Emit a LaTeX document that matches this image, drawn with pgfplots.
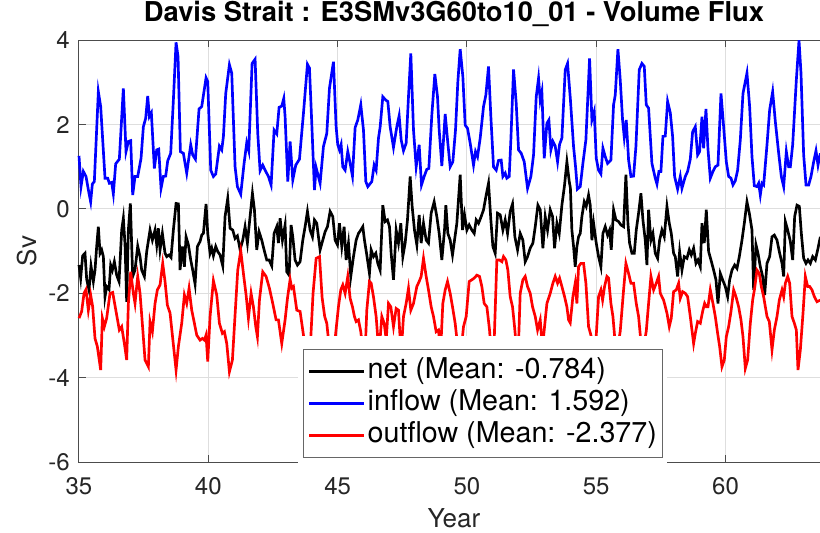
\documentclass[border=0pt]{standalone}
\usepackage{fontspec}
\setmainfont{TeX Gyre Heros}
\usepackage{pgfplots}
\pgfplotsset{compat=1.18}
\usetikzlibrary{calc}
\definecolor{mblue}{RGB}{0,0,255}
\definecolor{mred}{RGB}{255,0,0}
\begin{document}
\begin{tikzpicture}
\begin{axis}[
  scale only axis, width=562.5pt, height=316.3pt,
  xmin=35, xmax=64, ymin=-6, ymax=4,
  clip=false,
  xtick={35,40,45,50,55,60}, xticklabels={35,40,45,50,55,60},
  ytick={-6,-4,-2,0,2,4}, yticklabels={-6,-4,-2,0,2,4},
  tick align=inside, major tick length=5.25pt,
  grid=major, major grid style={black!13, line width=0.75pt},
  axis line style={black!70, line width=0.75pt},
  every tick/.style={black!70, line width=0.75pt},
  tick label style={font=\fontsize{18}{18}\selectfont, text=black!85},
  xticklabel style={anchor=base, inner sep=0pt, yshift=-24pt},
  yticklabel style={anchor=east, inner sep=0pt, xshift=-6.75pt},
  title={Davis Strait : E3SMv3G60to10\_01 - Volume Flux},
  title style={font=\fontsize{20.5}{20.5}\selectfont\bfseries, at={(axis description cs:0.5,1)}, anchor=base, inner sep=0pt, yshift=7.7pt},
  xlabel={Year},
  xlabel style={font=\fontsize{19.5}{19.5}\selectfont, text=black!85, at={(axis description cs:0.5,0)}, anchor=base, inner sep=0pt, yshift=-48.75pt},
  ylabel={Sv},
  ylabel style={font=\fontsize{19.5}{19.5}\selectfont, text=black!85, at={(axis description cs:-0.0693,0.5)}, anchor=center, inner sep=0pt},
  legend style={at={(0.299,0.268)}, anchor=north west, draw=black!60, line width=0.75pt, fill=white,
    font=\fontsize{21.5}{24}\selectfont, inner xsep=3pt, inner ysep=4.5pt, row sep=0pt,
    nodes={inner xsep=1.5pt, inner ysep=1.75pt, text height=15.5pt, text depth=5pt}},
  legend cell align=left,
  legend image code/.code={\draw[#1, line width=1.5pt] (0pt,0pt) -- (39pt,0pt); \path (0pt,0pt) -- (41.5pt,0pt);},
]
\addplot[black, line width=2pt] table {
35.000 -1.33
35.065 -1.64
35.142 -1.11
35.232 -1.05
35.297 -1.67
35.387 -1.92
35.464 -1.35
35.555 -1.72
35.619 -1.45
35.684 -0.89
35.748 -0.42
35.813 -1.05
35.877 -0.97
35.942 -1.13
36.006 -2.08
36.070 -1.84
36.161 -1.91
36.225 -1.33
36.290 -1.45
36.367 -1.25
36.457 -1.57
36.548 -1.72
36.651 -0.50
36.715 -0.22
36.780 -0.85
36.844 -2.20
36.909 -0.50
36.986 0.13
37.076 -1.60
37.166 -1.45
37.270 -0.88
37.360 -1.13
37.424 -1.45
37.528 -1.60
37.618 -1.01
37.747 -0.50
37.837 -0.74
37.940 -0.50
38.005 -0.85
38.069 -0.46
38.134 -0.97
38.224 -0.58
38.327 -1.05
38.392 -1.13
38.482 -1.09
38.559 -1.15
38.649 -0.50
38.753 0.13
38.843 0.12
38.907 -1.45
38.998 -0.89
39.075 -1.37
39.140 -0.66
39.230 -0.85
39.320 -1.21
39.397 -1.45
39.488 -1.78
39.578 -0.89
39.681 -0.77
39.746 -0.62
39.810 -0.58
39.913 0.12
39.978 -0.58
40.068 -1.05
40.132 -0.93
40.197 -1.11
40.287 -0.89
40.365 -1.01
40.455 -1.09
40.558 -1.35
40.648 -0.18
40.751 0.25
40.842 -0.46
40.945 -0.50
41.035 -0.70
41.125 -0.64
41.229 -0.96
41.332 -0.74
41.422 -0.42
41.512 -0.81
41.615 -0.18
41.706 0.37
41.783 -0.02
41.873 -0.97
41.963 -0.54
42.067 -0.74
42.157 -0.97
42.260 -1.21
42.350 -1.21
42.453 -1.35
42.544 -0.58
42.647 -0.42
42.711 -0.81
42.776 -0.22
42.866 -0.74
42.969 -0.38
43.034 -1.49
43.124 -1.57
43.201 -0.38
43.266 -0.66
43.356 -1.21
43.446 -1.33
43.549 -1.25
43.653 -0.74
43.743 -0.42
43.833 -0.06
43.937 -0.50
44.027 -0.66
44.104 -0.26
44.194 -0.34
44.323 -0.97
44.426 -0.74
44.516 -0.54
44.607 -0.42
44.710 -0.06
44.813 -0.18
44.903 -0.74
44.994 -0.85
45.071 -0.34
45.161 -0.89
45.251 -0.42
45.329 -1.21
45.419 -0.81
45.509 -1.60
45.613 -1.13
45.716 -0.74
45.806 -0.58
45.896 -0.50
45.974 -0.42
46.038 -0.74
46.128 -1.09
46.231 -1.53
46.296 -0.97
46.386 -1.13
46.476 -1.05
46.554 -1.29
46.644 -1.45
46.747 0.09
46.838 -0.30
46.928 -0.26
47.005 -0.42
47.070 -1.05
47.160 -1.68
47.263 -0.50
47.353 -0.81
47.444 -0.34
47.521 -1.13
47.611 -0.81
47.701 -0.26
47.805 0.77
47.882 0.06
47.972 -0.50
48.063 -0.85
48.153 -0.14
48.230 -0.81
48.320 -0.34
48.424 -0.74
48.514 -0.81
48.617 -0.10
48.733 0.17
48.836 -0.18
48.927 -0.58
49.030 -1.21
49.133 -0.50
49.185 0.09
49.262 -0.58
49.352 -0.74
49.442 -1.09
49.520 -0.74
49.610 -0.34
49.739 0.81
49.829 -0.50
49.907 -0.14
49.997 -0.50
50.087 -0.38
50.190 -0.50
50.281 -0.58
50.358 -0.26
50.448 -0.34
50.551 -0.18
50.642 -0.02
50.732 0.29
50.835 0.61
50.925 -0.26
51.003 -0.89
51.093 -1.05
51.183 -0.10
51.286 -0.14
51.390 -0.50
51.480 -0.26
51.570 -0.58
51.673 -0.06
51.763 0.12
51.854 -0.66
51.957 -0.97
52.060 -0.58
52.163 -0.74
52.253 -1.25
52.344 -1.13
52.447 -0.93
52.550 -0.81
52.641 -0.42
52.744 0.09
52.834 -0.02
52.937 -0.93
53.027 -0.18
53.117 -0.50
53.221 -0.02
53.311 -0.18
53.388 -0.93
53.479 -0.34
53.569 -0.58
53.672 0.09
53.775 0.57
53.865 1.12
53.956 0.65
54.000 0.50
54.058 -0.50
54.123 -0.89
54.187 -1.37
54.252 -0.89
54.316 -0.66
54.381 -0.58
54.445 -0.18
54.536 0.17
54.613 0.06
54.703 0.33
54.768 0.09
54.832 -0.74
54.897 -0.34
55.000 -0.81
55.090 -1.13
55.180 -1.37
55.258 -0.58
55.348 -0.42
55.438 -0.62
55.516 -0.50
55.580 -0.97
55.670 -0.02
55.761 -0.26
55.864 -0.30
55.954 -0.38
56.057 -0.42
56.147 0.81
56.225 -0.34
56.289 -0.81
56.380 -1.05
56.470 -1.05
56.547 -0.50
56.637 -0.10
56.728 0.37
56.805 -0.26
56.895 -0.74
56.960 -1.33
57.024 -0.02
57.115 -0.74
57.192 -0.58
57.282 -1.05
57.373 -1.17
57.450 -0.74
57.540 -0.50
57.630 -0.66
57.734 0.06
57.824 -0.34
57.901 -0.58
57.991 -1.05
58.056 -1.13
58.146 -1.60
58.224 -1.01
58.314 -1.45
58.404 -1.13
58.507 -1.17
58.597 -0.97
58.675 -1.09
58.765 -0.93
58.856 -1.29
58.933 -1.21
59.023 -1.37
59.088 -0.34
59.178 -0.81
59.255 -0.02
59.345 -1.01
59.436 -1.21
59.539 -1.45
59.629 -1.68
59.707 -2.24
59.797 -1.53
59.887 -1.68
59.990 -1.84
60.081 -2.08
60.158 -1.68
60.248 -1.45
60.351 -1.33
60.442 -1.41
60.532 -1.13
60.635 -0.74
60.725 -0.34
60.828 0.17
60.919 -0.10
61.022 -0.50
61.086 -1.92
61.176 -0.85
61.254 -1.05
61.344 -1.37
61.434 -1.60
61.512 -2.04
61.602 -1.29
61.705 -1.13
61.796 -0.66
61.886 -0.62
61.989 -0.74
62.092 -1.05
62.183 -1.29
62.247 -1.60
62.312 -0.30
62.402 -0.50
62.505 -0.77
62.595 -1.21
62.672 -0.18
62.763 0.09
62.853 0.06
62.930 -0.58
63.020 -1.17
63.111 -1.29
63.188 -1.21
63.278 -1.29
63.369 -1.13
63.472 -1.21
63.562 -0.97
63.666 -0.66
};
\addlegendentry{net (Mean: -0.784)}
\addplot[mblue, line width=2pt] table {
35.000 1.26
35.078 0.53
35.168 0.89
35.271 0.77
35.387 0.37
35.451 0.17
35.516 0.59
35.593 0.65
35.748 2.78
35.838 2.43
36.006 0.73
36.109 0.73
36.174 0.61
36.264 0.63
36.328 0.36
36.419 1.07
36.560 1.18
36.715 2.86
36.818 1.36
36.909 1.60
36.999 1.62
37.076 0.33
37.166 0.77
37.270 0.77
37.399 1.20
37.489 1.95
37.579 2.15
37.657 2.68
37.721 2.19
37.798 2.28
37.914 0.96
38.005 1.40
38.082 1.42
38.172 0.49
38.263 0.77
38.353 0.78
38.430 1.14
38.546 1.32
38.649 2.58
38.753 3.95
38.830 3.61
38.920 1.36
39.036 1.32
39.165 0.85
39.320 1.52
39.397 1.28
39.501 1.18
39.642 2.37
39.746 2.43
39.913 3.11
39.978 3.02
40.094 0.92
40.197 0.77
40.287 0.83
40.429 1.49
40.519 1.40
40.584 1.72
40.674 2.74
40.816 3.42
40.906 3.22
41.035 1.00
41.125 0.53
41.254 0.35
41.383 1.08
41.486 1.57
41.564 1.38
41.693 3.45
41.809 3.55
41.912 1.79
42.002 0.91
42.105 1.04
42.196 0.92
42.325 0.77
42.428 0.57
42.544 1.87
42.647 1.78
42.737 2.41
42.840 2.44
42.918 2.62
42.969 2.19
43.073 0.65
43.163 1.60
43.266 0.69
43.382 1.04
43.524 1.18
43.679 2.27
43.833 3.43
43.911 3.34
44.001 2.03
44.104 0.45
44.169 0.98
44.323 0.61
44.452 1.48
44.581 1.79
44.684 2.86
44.839 3.49
44.942 1.95
45.006 1.52
45.071 1.40
45.135 1.53
45.200 1.00
45.290 0.92
45.393 1.36
45.484 1.08
45.574 0.78
45.677 1.93
45.780 2.11
45.896 2.47
46.000 1.87
46.090 0.65
46.167 0.53
46.322 0.65
46.412 1.04
46.489 0.92
46.580 1.68
46.644 1.94
46.747 2.66
46.863 2.58
46.941 2.55
47.031 1.95
47.160 1.46
47.289 1.95
47.379 2.21
47.457 1.64
47.547 1.38
47.650 1.56
47.740 2.66
47.830 3.69
47.934 1.87
48.037 1.00
48.153 1.52
48.243 0.57
48.346 0.77
48.449 0.94
48.527 0.96
48.643 2.23
48.759 3.20
48.862 2.66
48.927 1.87
49.030 1.02
49.159 2.25
49.262 1.56
49.352 1.00
49.455 1.12
49.558 1.87
49.649 3.02
49.739 3.79
49.842 3.14
49.932 1.99
50.023 1.91
50.126 1.56
50.255 1.04
50.332 1.36
50.410 1.24
50.513 1.68
50.642 2.43
50.732 2.70
50.835 3.38
50.925 2.19
51.028 1.00
51.132 0.92
51.222 1.15
51.325 1.16
51.390 0.77
51.480 0.85
51.544 0.73
51.634 0.77
51.699 1.64
51.802 3.31
51.905 2.51
51.996 1.40
52.099 1.32
52.215 1.12
52.344 0.49
52.473 0.77
52.576 1.28
52.679 2.66
52.769 3.10
52.834 2.58
52.898 2.78
52.989 1.20
53.092 2.03
53.169 2.11
53.246 1.40
53.324 1.60
53.414 1.49
53.504 1.12
53.582 1.53
53.672 1.68
53.801 3.30
53.891 3.45
54.000 2.60
54.123 1.48
54.200 1.00
54.270 0.47
54.381 0.53
54.484 1.08
54.600 1.64
54.742 3.57
54.832 2.11
54.922 2.31
55.000 1.20
55.090 0.92
55.180 0.83
55.258 1.44
55.348 1.24
55.438 1.08
55.567 1.16
55.670 2.47
55.735 2.70
55.838 3.79
55.928 3.06
56.018 2.11
56.083 1.70
56.160 2.11
56.251 1.16
56.341 0.77
56.444 0.78
56.534 1.48
56.663 3.30
56.766 3.45
56.857 3.38
56.934 2.47
57.024 2.39
57.153 1.08
57.282 0.73
57.347 0.59
57.424 0.89
57.501 0.89
57.579 1.72
57.669 1.73
57.759 2.55
57.863 2.28
57.953 1.72
58.030 0.77
58.146 0.47
58.249 0.77
58.314 0.49
58.443 0.77
58.533 0.89
58.636 1.18
58.727 1.83
58.830 1.95
58.920 1.28
58.997 1.36
59.088 2.19
59.152 1.44
59.242 2.37
59.320 1.42
59.410 0.73
59.513 0.89
59.603 1.00
59.707 1.04
59.823 2.74
59.926 1.95
60.029 1.12
60.119 0.77
60.210 0.73
60.287 0.57
60.377 0.67
60.467 0.92
60.571 1.64
60.674 2.74
60.828 3.22
60.931 2.43
61.022 1.24
61.112 0.55
61.215 0.53
61.280 0.61
61.344 0.33
61.409 0.61
61.473 0.57
61.602 1.52
61.705 2.35
61.821 2.78
61.925 2.07
62.054 1.32
62.157 0.77
62.247 0.53
62.350 1.36
62.440 1.00
62.505 1.00
62.595 1.52
62.737 3.06
62.840 4.00
62.917 3.22
63.020 1.28
63.111 0.57
63.214 0.57
63.304 0.77
63.407 1.12
63.497 1.38
63.575 1.04
63.666 1.32
};
\addlegendentry{inflow (Mean: 1.592)}
\addplot[mred, line width=2pt] table {
35.000 -2.59
35.103 -2.43
35.194 -2.00
35.271 -1.91
35.361 -2.40
35.451 -2.04
35.529 -2.32
35.619 -3.07
35.709 -3.26
35.838 -3.82
35.903 -2.59
35.980 -2.79
36.070 -2.59
36.199 -2.00
36.303 -1.98
36.432 -2.43
36.560 -2.87
36.651 -2.79
36.754 -3.19
36.844 -3.58
36.909 -2.24
36.999 -1.49
37.102 -2.00
37.166 -2.24
37.270 -1.60
37.360 -2.00
37.463 -2.83
37.553 -3.58
37.682 -3.74
37.747 -2.67
37.837 -2.91
37.940 -2.24
38.030 -1.92
38.134 -1.80
38.237 -1.29
38.327 -1.72
38.417 -2.28
38.521 -2.47
38.624 -3.07
38.753 -3.82
38.843 -3.26
38.972 -2.71
39.075 -2.04
39.165 -2.24
39.256 -1.88
39.359 -2.40
39.449 -2.67
39.552 -2.99
39.681 -3.11
39.771 -3.07
39.849 -3.11
39.913 -2.99
39.978 -3.62
40.068 -2.55
40.197 -1.70
40.326 -2.04
40.429 -2.71
40.545 -2.95
40.622 -2.91
40.713 -3.19
40.816 -3.86
40.932 -3.58
41.035 -2.51
41.138 -1.45
41.254 -0.99
41.358 -1.53
41.461 -2.04
41.551 -2.59
41.654 -2.00
41.744 -2.32
41.835 -2.79
41.899 -3.03
41.977 -2.16
42.105 -1.49
42.234 -1.60
42.363 -1.88
42.492 -2.24
42.621 -2.63
42.711 -2.63
42.840 -3.19
42.969 -2.63
43.060 -2.12
43.163 -1.67
43.227 -1.88
43.292 -1.84
43.421 -2.40
43.549 -2.43
43.679 -2.99
43.770 -3.40
43.860 -3.60
43.963 -3.05
44.050 -2.00
44.170 -1.17
44.300 -1.13
44.400 -2.10
44.500 -2.55
44.581 -2.71
44.680 -3.30
44.780 -3.50
44.900 -3.10
45.032 -2.32
45.122 -1.92
45.200 -1.80
45.290 -2.00
45.393 -1.60
45.484 -2.12
45.574 -2.32
45.651 -2.55
45.716 -2.67
45.806 -2.63
45.896 -2.91
45.980 -3.40
46.070 -3.30
46.128 -2.40
46.231 -1.72
46.296 -1.76
46.386 -2.08
46.489 -2.55
46.570 -3.20
46.640 -3.10
46.709 -2.55
46.799 -2.71
46.880 -3.10
46.967 -2.24
47.057 -2.32
47.160 -2.79
47.263 -2.36
47.353 -2.40
47.430 -3.20
47.490 -3.10
47.547 -2.55
47.650 -2.24
47.740 -1.88
47.830 -2.40
47.934 -2.24
48.063 -1.84
48.153 -1.72
48.230 -1.60
48.320 -1.17
48.424 -1.60
48.514 -1.92
48.617 -2.32
48.707 -2.55
48.810 -2.91
48.901 -2.87
48.980 -3.40
49.068 -2.24
49.159 -1.92
49.249 -1.72
49.352 -2.00
49.442 -2.32
49.545 -2.71
49.650 -3.30
49.750 -3.50
49.868 -2.79
49.971 -2.55
50.087 -1.72
50.190 -1.68
50.281 -1.64
50.384 -1.57
50.487 -1.60
50.577 -1.84
50.667 -2.24
50.771 -2.32
50.874 -2.87
50.960 -3.60
51.050 -3.20
51.157 -1.21
51.261 -1.21
51.351 -1.25
51.415 -1.13
51.506 -1.21
51.583 -1.45
51.673 -2.08
51.763 -2.32
51.841 -2.79
51.930 -3.40
52.000 -3.10
52.060 -2.00
52.163 -1.68
52.253 -1.60
52.344 -1.84
52.447 -2.00
52.537 -2.32
52.641 -2.55
52.731 -2.87
52.834 -2.63
52.920 -3.30
52.988 -2.87
53.092 -2.24
53.221 -2.00
53.324 -1.76
53.414 -1.60
53.504 -1.76
53.582 -1.64
53.672 -1.84
53.775 -2.08
53.865 -2.32
53.930 -2.63
53.994 -2.70
54.097 -2.08
54.187 -1.76
54.252 -2.24
54.316 -1.37
54.407 -1.29
54.510 -1.29
54.600 -1.76
54.703 -2.79
54.793 -2.99
54.880 -3.40
54.990 -3.10
55.090 -2.08
55.180 -1.92
55.245 -2.16
55.322 -1.84
55.412 -1.60
55.477 -1.64
55.567 -2.24
55.645 -2.55
55.750 -3.30
55.850 -3.20
55.928 -2.90
56.057 -1.92
56.147 -1.29
56.251 -1.53
56.341 -1.76
56.444 -1.76
56.547 -2.24
56.637 -2.55
56.750 -3.30
56.850 -3.20
56.934 -2.90
57.024 -2.24
57.115 -1.60
57.218 -1.92
57.321 -1.76
57.411 -1.60
57.476 -2.00
57.605 -2.16
57.734 -2.47
57.824 -2.79
57.901 -2.59
57.991 -1.96
58.095 -1.92
58.185 -1.76
58.249 -2.12
58.340 -1.96
58.443 -2.00
58.533 -2.08
58.636 -2.55
58.701 -2.87
58.765 -3.19
58.830 -2.95
58.920 -2.67
59.023 -2.71
59.113 -2.43
59.191 -2.24
59.255 -2.32
59.320 -2.32
59.410 -1.92
59.513 -2.24
59.603 -2.55
59.694 -2.95
59.771 -3.26
59.861 -3.74
59.952 -3.58
60.029 -3.03
60.119 -2.79
60.210 -2.43
60.313 -1.92
60.403 -2.08
60.506 -2.32
60.596 -2.63
60.674 -3.03
60.764 -3.78
60.854 -3.58
60.957 -2.71
61.048 -2.16
61.125 -1.88
61.215 -1.45
61.305 -1.53
61.383 -1.84
61.473 -2.08
61.602 -2.55
61.692 -2.67
61.796 -3.34
61.886 -2.87
61.989 -2.55
62.079 -2.16
62.183 -1.92
62.247 -2.08
62.312 -1.76
62.402 -1.60
62.479 -1.76
62.569 -2.55
62.660 -2.71
62.737 -2.87
62.801 -3.82
62.892 -3.34
62.995 -2.47
63.085 -1.60
63.175 -1.84
63.253 -1.84
63.343 -1.92
63.433 -2.08
63.536 -2.20
63.666 -2.16
};
\addlegendentry{outflow (Mean: -2.377)}
\fill[white] (axis cs:43.47,-3.01) rectangle (axis cs:57.75,-6.07);
\coordinate (SW) at (rel axis cs:0,0);
\end{axis}
\pgfresetboundingbox
\path[use as bounding box] ($(SW)+(-59.25pt,-52.5pt)$) rectangle ($(SW)+(555.75pt,346.5pt)$);
\end{tikzpicture}
\end{document}
